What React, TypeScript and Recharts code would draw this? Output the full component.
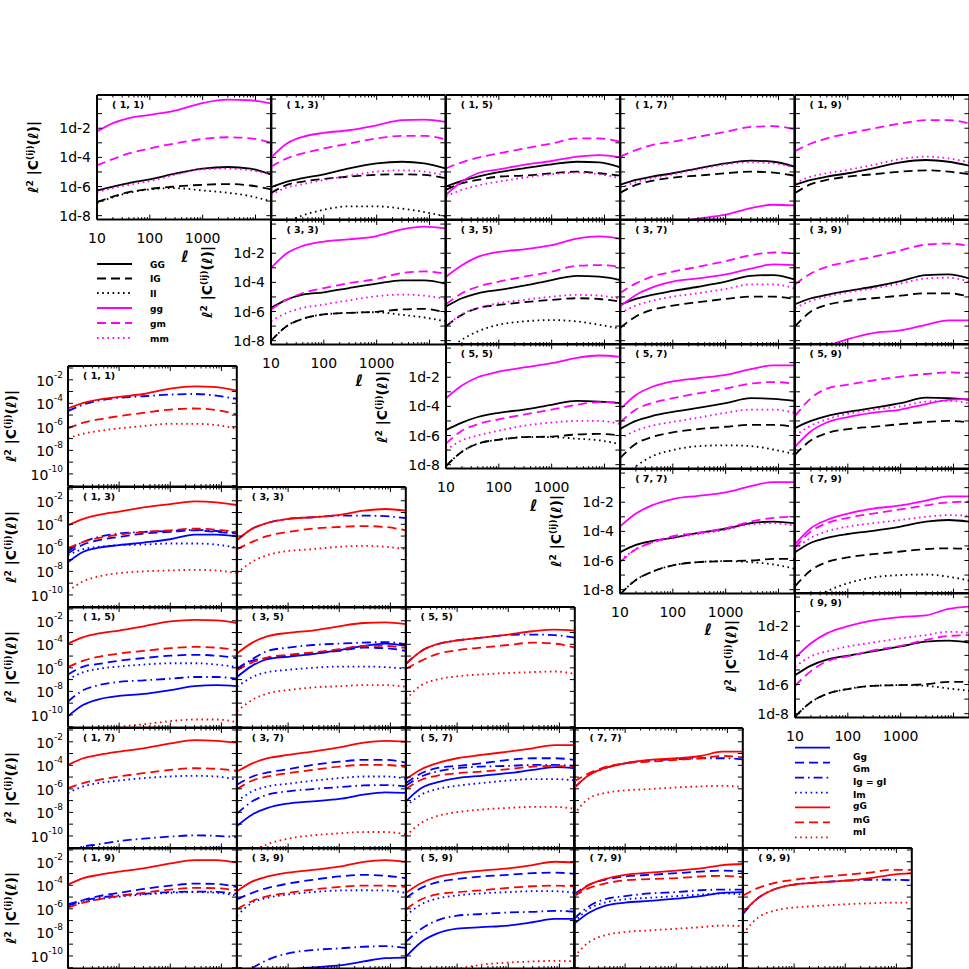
import React from "react";
import { LineChart, Line, XAxis, YAxis } from "recharts";

const FONT = "DejaVu Sans, sans-serif";

// multipole samples shared by every panel
const ELL = [10, 20, 40, 100, 300, 1000, 3000, 8000, 20000];
const X_MAJOR = [10, 100, 1000, 10000];
const X_ALL = [
  10, 20, 30, 40, 50, 60, 70, 80, 90, 100, 200, 300, 400, 500, 600, 700, 800, 900,
  1000, 2000, 3000, 4000, 5000, 6000, 7000, 8000, 9000, 10000, 20000,
];
const UP_YTICKS = [1e-8, 1e-7, 1e-6, 1e-5, 1e-4, 1e-3, 1e-2, 1e-1, 1];
const LO_YTICKS = [1e-11, 1e-10, 1e-9, 1e-8, 1e-7, 1e-6, 1e-5, 1e-4, 1e-3, 1e-2, 1e-1];

// log10 of l^2 |C(l)|, upper triangle (GG, IG, II, gg, gm, mm)
const u11 = {
  GG: [-6.27, -6.0, -5.76, -5.51, -5.12, -4.77, -4.66, -4.77, -5.19],
  IG: [-7.08, -6.69, -6.39, -6.16, -6.0, -5.88, -5.83, -5.93, -6.2],
  II: [-7.13, -6.74, -6.43, -6.2, -6.11, -6.27, -6.43, -6.66, -7.03],
  gg: [-2.23, -1.65, -1.3, -1.08, -0.8, -0.27, -0.04, -0.08, -0.3],
  gm: [-4.54, -4.12, -3.73, -3.39, -3.04, -2.74, -2.62, -2.69, -2.99],
  mm: [-6.39, -6.11, -5.88, -5.63, -5.19, -4.82, -4.77, -4.89, -5.19],
};
const u13 = {
  GG: [-6.05, -5.66, -5.43, -5.16, -4.75, -4.41, -4.3, -4.41, -4.75],
  IG: [-6.45, -5.89, -5.66, -5.48, -5.32, -5.2, -5.16, -5.2, -5.43],
  II: [-8.84, -8.39, -7.98, -7.59, -7.36, -7.36, -7.52, -7.75, -8.05],
  gg: [-4.02, -3.05, -2.59, -2.32, -2.14, -1.8, -1.45, -1.41, -1.57],
  gm: [-4.64, -4.07, -3.73, -3.39, -3.05, -2.7, -2.52, -2.52, -2.77],
  mm: [-6.57, -6.07, -5.84, -5.55, -5.27, -4.98, -4.89, -4.98, -5.25],
};
const u15 = {
  GG: [-6.0, -5.61, -5.32, -5.02, -4.75, -4.48, -4.3, -4.34, -4.68],
  IG: [-6.23, -5.77, -5.55, -5.32, -5.25, -5.09, -4.98, -5.09, -5.25],
  gg: [-6.57, -5.66, -5.09, -4.82, -4.52, -4.25, -3.95, -3.84, -4.0],
  gm: [-4.75, -4.34, -4.02, -3.73, -3.39, -3.05, -2.7, -2.7, -2.93],
  mm: [-6.68, -6.23, -5.93, -5.66, -5.39, -5.16, -5.05, -5.16, -5.43],
};
const u17 = {
  GG: [-5.89, -5.55, -5.32, -5.09, -4.75, -4.41, -4.23, -4.3, -4.64],
  IG: [-6.45, -5.89, -5.61, -5.39, -5.25, -5.09, -4.98, -5.05, -5.25],
  gg: [-9.3, -9.07, -8.84, -8.5, -8.2, -7.93, -7.48, -7.25, -7.3],
  gm: [-3.95, -3.5, -3.16, -2.93, -2.59, -2.25, -1.91, -1.86, -2.07],
  mm: [-6.11, -5.7, -5.43, -5.16, -4.82, -4.48, -4.34, -4.41, -4.7],
};
const u19 = {
  GG: [-5.89, -5.55, -5.32, -5.09, -4.75, -4.34, -4.18, -4.3, -4.57],
  IG: [-6.45, -5.84, -5.55, -5.32, -5.16, -4.98, -4.89, -4.98, -5.16],
  gm: [-3.57, -3.05, -2.7, -2.36, -2.02, -1.68, -1.45, -1.45, -1.68],
  mm: [-5.77, -5.32, -5.09, -4.86, -4.52, -4.11, -3.95, -4.07, -4.34],
};
const u33 = {
  GG: [-5.75, -5.18, -4.84, -4.68, -4.39, -4.09, -3.86, -3.86, -4.09],
  IG: [-8.02, -7.0, -6.5, -6.2, -6.09, -6.02, -5.86, -5.82, -6.09],
  II: [-8.02, -7.0, -6.5, -6.2, -6.09, -6.05, -6.23, -6.41, -6.68],
  gg: [-3.02, -2.0, -1.5, -1.2, -1.05, -0.82, -0.36, -0.18, -0.3],
  gm: [-5.86, -5.18, -4.73, -4.39, -4.05, -3.77, -3.36, -3.25, -3.41],
  mm: [-6.66, -6.09, -5.75, -5.52, -5.23, -4.95, -4.84, -4.91, -5.14],
};
const u35 = {
  GG: [-5.66, -5.09, -4.75, -4.52, -4.23, -3.84, -3.55, -3.61, -3.84],
  IG: [-7.02, -6.23, -5.77, -5.55, -5.36, -5.2, -5.09, -5.14, -5.32],
  II: [-8.73, -7.93, -7.36, -6.91, -6.68, -6.59, -6.68, -6.91, -7.18],
  gg: [-3.61, -2.82, -2.25, -1.91, -1.73, -1.45, -1.0, -0.84, -1.0],
  gm: [-5.5, -4.75, -4.3, -3.95, -3.61, -3.27, -2.86, -2.82, -2.93],
  mm: [-7.02, -6.18, -5.77, -5.43, -5.2, -4.98, -4.86, -4.91, -5.14],
};
const u37 = {
  GG: [-5.55, -5.14, -4.86, -4.59, -4.3, -3.95, -3.55, -3.5, -3.8],
  IG: [-7.14, -6.34, -5.89, -5.59, -5.36, -5.14, -4.98, -4.98, -5.14],
  gg: [-5.66, -4.86, -4.36, -3.95, -3.73, -3.45, -3.05, -2.77, -2.82],
  gm: [-4.75, -4.07, -3.61, -3.27, -2.93, -2.55, -2.14, -1.95, -2.02],
  mm: [-6.11, -5.59, -5.27, -4.98, -4.75, -4.45, -4.14, -4.14, -4.41],
};
const u39 = {
  GG: [-5.5, -5.09, -4.86, -4.59, -4.3, -3.91, -3.5, -3.45, -3.73],
  IG: [-7.02, -6.0, -5.55, -5.27, -5.09, -4.91, -4.75, -4.75, -4.98],
  gg: [-9.3, -8.84, -8.39, -7.9, -7.48, -7.3, -6.91, -6.61, -6.61],
  gm: [-4.14, -3.39, -2.93, -2.59, -2.25, -1.8, -1.41, -1.34, -1.5],
  mm: [-5.77, -5.27, -4.98, -4.68, -4.41, -4.07, -3.73, -3.68, -3.95],
};
const u55 = {
  GG: [-5.62, -5.11, -4.73, -4.44, -4.22, -3.89, -3.62, -3.67, -3.78],
  IG: [-8.1, -7.11, -6.56, -6.29, -6.11, -6.07, -5.93, -5.89, -6.0],
  II: [-8.1, -7.11, -6.56, -6.29, -6.11, -6.11, -6.22, -6.33, -6.6],
  gg: [-3.44, -2.56, -2.0, -1.62, -1.33, -1.04, -0.67, -0.51, -0.6],
  gm: [-6.56, -5.67, -5.22, -4.89, -4.56, -4.22, -3.89, -3.71, -3.71],
  mm: [-7.0, -6.33, -6.0, -5.67, -5.33, -5.11, -5.0, -5.0, -5.22],
};
const u57 = {
  GG: [-5.56, -5.0, -4.67, -4.38, -4.11, -3.78, -3.44, -3.49, -3.62],
  IG: [-7.56, -6.56, -6.11, -5.78, -5.56, -5.4, -5.27, -5.27, -5.4],
  II: [-9.0, -8.11, -7.44, -7.0, -6.73, -6.67, -6.73, -6.96, -7.27],
  gg: [-4.22, -3.22, -2.67, -2.29, -2.07, -1.84, -1.44, -1.18, -1.18],
  gm: [-5.11, -4.22, -3.78, -3.44, -3.11, -2.78, -2.44, -2.33, -2.44],
  mm: [-6.22, -5.67, -5.33, -5.07, -4.78, -4.44, -4.22, -4.22, -4.44],
};
const u59 = {
  GG: [-5.49, -5.0, -4.67, -4.38, -4.11, -3.78, -3.4, -3.44, -3.56],
  IG: [-7.33, -6.33, -5.84, -5.56, -5.4, -5.22, -5.07, -5.0, -5.11],
  gg: [-6.78, -5.71, -5.11, -4.73, -4.44, -4.22, -3.84, -3.56, -3.49],
  gm: [-4.67, -3.44, -2.78, -2.51, -2.22, -1.96, -1.78, -1.67, -1.73],
  mm: [-6.0, -5.33, -4.89, -4.51, -4.22, -4.0, -3.67, -3.62, -3.78],
};
const u77 = {
  GG: [-5.44, -4.93, -4.67, -4.44, -4.11, -3.82, -3.44, -3.33, -3.44],
  IG: [-8.33, -7.33, -6.78, -6.33, -6.11, -6.04, -6.0, -5.89, -5.89],
  II: [-8.33, -7.33, -6.78, -6.33, -6.11, -6.04, -6.11, -6.27, -6.56],
  gg: [-3.67, -2.78, -2.22, -1.78, -1.56, -1.33, -0.89, -0.62, -0.62],
  gm: [-6.11, -5.22, -4.78, -4.33, -4.11, -3.78, -3.33, -3.07, -3.0],
  mm: [-6.0, -5.22, -4.78, -4.44, -4.18, -3.89, -3.51, -3.44, -3.6],
};
const u79 = {
  GG: [-5.44, -4.78, -4.44, -4.18, -3.96, -3.67, -3.33, -3.22, -3.33],
  IG: [-7.78, -6.67, -6.11, -5.78, -5.56, -5.38, -5.22, -5.16, -5.22],
  II: [-9.56, -8.67, -8.11, -7.56, -7.16, -7.0, -6.96, -7.11, -7.38],
  gg: [-4.89, -3.78, -3.22, -2.78, -2.44, -2.22, -1.89, -1.6, -1.6],
  gm: [-5.11, -4.0, -3.44, -3.07, -2.78, -2.49, -2.22, -2.0, -1.96],
  mm: [-5.22, -4.44, -4.0, -3.67, -3.44, -3.22, -3.0, -2.89, -2.93],
};
const u99 = {
  GG: [-5.37, -4.7, -4.29, -4.02, -3.73, -3.39, -3.06, -2.99, -3.12],
  IG: [-8.22, -7.21, -6.65, -6.31, -6.09, -6.04, -5.98, -5.82, -5.82],
  II: [-8.22, -7.21, -6.65, -6.31, -6.09, -6.04, -6.09, -6.27, -6.43],
  gg: [-4.18, -3.17, -2.49, -2.0, -1.6, -1.37, -1.26, -0.81, -0.65],
  gm: [-6.09, -5.08, -4.4, -4.07, -3.66, -3.35, -2.94, -2.67, -2.61],
  mm: [-4.79, -4.07, -3.73, -3.39, -3.12, -2.83, -2.61, -2.38, -2.45],
};

// log10 of l^2 |C(l)|, lower triangle (Gg, Gm, Ig, Im, gG, mG, mI)
const d11 = {
  Ig: [-4.67, -4.11, -3.77, -3.54, -3.4, -3.26, -3.21, -3.35, -3.63],
  gG: [-4.44, -3.97, -3.69, -3.46, -3.21, -2.76, -2.56, -2.62, -2.93],
  mG: [-6.13, -5.65, -5.37, -5.09, -4.81, -4.53, -4.44, -4.58, -4.95],
  mI: [-6.97, -6.58, -6.35, -6.13, -5.93, -5.74, -5.74, -5.85, -6.16],
};
const d13 = {
  Gg: [-7.22, -6.33, -5.99, -5.77, -5.55, -5.27, -4.88, -4.88, -5.02],
  Gm: [-6.47, -5.72, -5.35, -5.07, -4.79, -4.65, -4.51, -4.65, -4.79],
  Ig: [-6.27, -5.49, -5.07, -4.79, -4.65, -4.57, -4.46, -4.57, -4.71],
  Im: [-6.61, -6.11, -5.91, -5.77, -5.72, -5.63, -5.63, -5.72, -5.99],
  gG: [-4.09, -3.54, -3.2, -2.92, -2.56, -2.28, -2.06, -2.14, -2.36],
  mG: [-6.05, -5.49, -5.16, -4.88, -4.65, -4.51, -4.37, -4.46, -4.65],
  mI: [-9.68, -8.84, -8.42, -8.15, -8.0, -7.92, -7.87, -7.92, -8.15],
};
const d33 = {
  Ig: [-5.35, -4.37, -3.87, -3.54, -3.4, -3.26, -3.26, -3.31, -3.48],
  gG: [-5.35, -4.37, -3.87, -3.54, -3.4, -3.2, -2.84, -2.7, -2.84],
  mG: [-6.11, -5.49, -4.99, -4.65, -4.37, -4.23, -4.15, -4.23, -4.51],
  mI: [-8.15, -7.17, -6.61, -6.27, -6.11, -5.91, -5.83, -5.91, -6.11],
};
const d15 = {
  Gg: [-10.11, -9.14, -8.67, -8.39, -8.22, -7.89, -7.56, -7.47, -7.56],
  Gm: [-6.56, -5.89, -5.67, -5.39, -5.17, -4.97, -4.89, -4.97, -5.17],
  Ig: [-8.86, -7.89, -7.47, -7.19, -7.06, -6.92, -6.78, -6.78, -6.92],
  Im: [-7.0, -6.36, -6.08, -5.89, -5.72, -5.61, -5.61, -5.72, -5.94],
  gG: [-3.94, -3.39, -3.08, -2.83, -2.47, -2.06, -1.92, -1.97, -2.19],
  mG: [-5.94, -5.39, -5.06, -4.78, -4.56, -4.33, -4.22, -4.28, -4.5],
  mI: [-12.0, -11.6, -11.3, -11.0, -10.8, -10.53, -10.39, -10.39, -10.61],
};
const d35 = {
  Gg: [-6.78, -5.81, -5.25, -5.06, -4.83, -4.5, -4.14, -3.94, -4.14],
  Gm: [-6.08, -5.39, -5.17, -4.97, -4.78, -4.56, -4.28, -4.33, -4.56],
  Ig: [-6.08, -5.25, -4.56, -4.28, -4.06, -3.94, -3.86, -3.81, -4.0],
  Im: [-7.61, -6.78, -6.36, -6.17, -6.0, -5.89, -5.89, -5.94, -6.08],
  gG: [-4.78, -3.86, -3.31, -3.03, -2.83, -2.47, -2.19, -2.14, -2.28],
  mG: [-6.22, -5.53, -5.11, -4.89, -4.69, -4.42, -4.14, -4.14, -4.33],
  mI: [-9.69, -8.72, -8.17, -7.89, -7.67, -7.56, -7.47, -7.47, -7.61],
};
const d55 = {
  Ig: [-5.67, -4.56, -4.0, -3.67, -3.44, -3.2, -3.17, -3.22, -3.44],
  gG: [-5.67, -4.56, -4.0, -3.67, -3.44, -3.17, -2.89, -2.75, -2.83],
  mG: [-6.08, -5.39, -4.83, -4.5, -4.28, -4.06, -3.86, -3.94, -4.28],
  mI: [-8.67, -7.47, -7.0, -6.72, -6.56, -6.44, -6.36, -6.31, -6.5],
};
const d17 = {
  Gg: [-12.5, -11.9, -11.6, -11.4, -11.3, -11.19, -11.05, -10.99, -11.05],
  Ig: [-11.27, -10.9, -10.71, -10.43, -10.23, -10.06, -9.95, -10.0, -10.09],
  Im: [-6.35, -5.79, -5.51, -5.29, -5.09, -4.95, -4.89, -4.95, -5.23],
  gG: [-3.97, -3.4, -3.12, -2.84, -2.56, -2.14, -1.86, -1.92, -2.08],
  mG: [-5.93, -5.51, -5.23, -4.95, -4.67, -4.39, -4.25, -4.3, -4.47],
};
const d37 = {
  Gg: [-9.16, -8.18, -7.62, -7.25, -7.06, -6.86, -6.49, -6.3, -6.35],
  Gm: [-5.65, -4.95, -4.61, -4.33, -3.97, -3.69, -3.54, -3.54, -3.77],
  Ig: [-8.1, -7.06, -6.49, -6.21, -6.02, -5.85, -5.71, -5.68, -5.79],
  Im: [-7.06, -6.21, -5.79, -5.57, -5.31, -5.09, -4.95, -4.95, -5.15],
  gG: [-4.53, -3.83, -3.4, -3.12, -2.84, -2.48, -2.08, -1.92, -2.0],
  mG: [-6.02, -5.29, -4.95, -4.67, -4.39, -4.11, -3.97, -3.97, -4.16],
  mI: [-12.0, -11.3, -10.7, -10.23, -9.95, -9.78, -9.67, -9.67, -9.87],
};
const d57 = {
  Gg: [-7.06, -5.93, -5.46, -5.09, -4.89, -4.67, -4.39, -4.16, -4.25],
  Gm: [-5.51, -4.67, -4.25, -4.05, -3.83, -3.54, -3.4, -3.4, -3.54],
  Ig: [-5.74, -4.95, -4.53, -4.25, -4.11, -4.05, -3.97, -3.97, -4.05],
  Im: [-7.48, -6.49, -6.02, -5.74, -5.51, -5.29, -5.17, -5.17, -5.29],
  gG: [-5.17, -4.33, -3.83, -3.4, -3.12, -2.84, -2.56, -2.28, -2.28],
  mG: [-6.02, -5.23, -4.89, -4.67, -4.53, -4.33, -4.11, -4.05, -4.16],
  mI: [-10.0, -8.88, -8.32, -7.98, -7.76, -7.62, -7.53, -7.53, -7.7],
};
const d77 = {
  Ig: [-5.93, -4.81, -4.25, -3.83, -3.6, -3.49, -3.4, -3.4, -3.49],
  gG: [-5.93, -4.81, -4.25, -3.83, -3.54, -3.4, -3.21, -2.84, -2.84],
  mG: [-5.37, -4.67, -4.16, -3.83, -3.69, -3.54, -3.4, -3.21, -3.32],
  mI: [-8.18, -6.78, -6.35, -6.13, -6.02, -5.88, -5.79, -5.74, -5.85],
};
const d19 = {
  Gm: [-5.75, -5.25, -4.92, -4.64, -4.31, -4.03, -3.86, -3.89, -4.14],
  Ig: [-5.61, -5.28, -5.06, -4.86, -4.72, -4.58, -4.53, -4.56, -4.72],
  Im: [-5.81, -5.42, -5.19, -4.97, -4.78, -4.64, -4.58, -4.64, -4.86],
  gG: [-3.94, -3.39, -3.11, -2.83, -2.56, -2.14, -1.86, -1.86, -2.08],
  mG: [-5.89, -5.47, -5.19, -4.92, -4.64, -4.36, -4.22, -4.25, -4.42],
};
const d39 = {
  Gg: [-12.5, -12.0, -11.6, -11.2, -10.97, -10.81, -10.47, -10.19, -10.14],
  Gm: [-5.19, -4.64, -4.22, -3.86, -3.53, -3.25, -3.11, -3.19, -3.39],
  Ig: [-12.0, -11.03, -10.33, -9.78, -9.5, -9.36, -9.22, -9.17, -9.31],
  Im: [-6.58, -5.47, -5.06, -4.78, -4.58, -4.44, -4.42, -4.44, -4.64],
  gG: [-4.5, -3.67, -3.25, -2.92, -2.69, -2.42, -2.0, -1.86, -2.0],
  mG: [-6.03, -5.33, -4.92, -4.64, -4.36, -4.14, -4.03, -4.03, -4.14],
};
const d59 = {
  Gg: [-10.06, -8.81, -8.11, -7.69, -7.56, -7.42, -7.14, -6.86, -6.86],
  Gm: [-5.06, -4.22, -3.75, -3.47, -3.25, -3.11, -2.97, -2.92, -3.03],
  Ig: [-8.81, -7.69, -7.0, -6.58, -6.44, -6.31, -6.25, -6.17, -6.25],
  Im: [-6.58, -5.61, -5.14, -4.86, -4.69, -4.58, -4.5, -4.5, -4.64],
  gG: [-4.64, -3.81, -3.31, -2.97, -2.75, -2.56, -2.28, -2.0, -2.08],
  mG: [-6.03, -5.19, -4.78, -4.58, -4.42, -4.22, -4.08, -4.03, -4.08],
  mI: [-12.5, -12.0, -11.5, -11.1, -10.75, -10.56, -10.47, -10.42, -10.47],
};
const d79 = {
  Gg: [-7.28, -6.31, -5.75, -5.47, -5.33, -5.14, -4.92, -4.64, -4.58],
  Gm: [-4.78, -3.94, -3.53, -3.25, -3.11, -2.97, -2.83, -2.75, -2.83],
  Ig: [-6.86, -5.75, -5.19, -4.92, -4.69, -4.58, -4.42, -4.36, -4.36],
  Im: [-7.14, -5.97, -5.47, -5.19, -5.06, -4.92, -4.78, -4.69, -4.78],
  gG: [-4.92, -3.94, -3.47, -3.11, -2.92, -2.75, -2.56, -2.28, -2.19],
  mG: [-4.92, -4.22, -3.86, -3.58, -3.47, -3.39, -3.25, -3.19, -3.31],
  mI: [-10.06, -8.81, -8.25, -7.97, -7.83, -7.69, -7.56, -7.42, -7.47],
};
const d99 = {
  Ig: [-6.44, -5.06, -4.36, -3.94, -3.75, -3.61, -3.53, -3.53, -3.58],
  gG: [-6.31, -5.06, -4.36, -3.94, -3.75, -3.61, -3.39, -3.11, -2.97],
  mG: [-4.86, -4.22, -3.81, -3.53, -3.31, -3.11, -2.92, -2.69, -2.69],
  mI: [-8.11, -6.72, -6.17, -5.89, -5.75, -5.61, -5.53, -5.47, -5.47],
};

const upperPanels = [
  { i: 1, j: 1, v: u11 }, { i: 1, j: 3, v: u13 }, { i: 1, j: 5, v: u15 },
  { i: 1, j: 7, v: u17 }, { i: 1, j: 9, v: u19 }, { i: 3, j: 3, v: u33 },
  { i: 3, j: 5, v: u35 }, { i: 3, j: 7, v: u37 }, { i: 3, j: 9, v: u39 },
  { i: 5, j: 5, v: u55 }, { i: 5, j: 7, v: u57 }, { i: 5, j: 9, v: u59 },
  { i: 7, j: 7, v: u77 }, { i: 7, j: 9, v: u79 }, { i: 9, j: 9, v: u99 },
];
const lowerPanels = [
  { i: 1, j: 1, v: d11 }, { i: 1, j: 3, v: d13 }, { i: 3, j: 3, v: d33 },
  { i: 1, j: 5, v: d15 }, { i: 3, j: 5, v: d35 }, { i: 5, j: 5, v: d55 },
  { i: 1, j: 7, v: d17 }, { i: 3, j: 7, v: d37 }, { i: 5, j: 7, v: d57 },
  { i: 7, j: 7, v: d77 }, { i: 1, j: 9, v: d19 }, { i: 3, j: 9, v: d39 },
  { i: 5, j: 9, v: d59 }, { i: 7, j: 9, v: d79 }, { i: 9, j: 9, v: d99 },
];

const MAG = "#ff00ff";
const RED = "#ff0000";
const BLUE = "#0000ff";
const DASH = "9 5";
const DOT = "1.6 3.6";
const DASHDOT = "9 4 1.6 4";
const LW = 1.8;

type Style = { key: string; label: string; color: string; dash?: string };

const upperStyles: Style[] = [
  { key: "GG", label: "GG", color: "#000" },
  { key: "IG", label: "IG", color: "#000", dash: DASH },
  { key: "II", label: "II", color: "#000", dash: DOT },
  { key: "gg", label: "gg", color: MAG },
  { key: "gm", label: "gm", color: MAG, dash: DASH },
  { key: "mm", label: "mm", color: MAG, dash: DOT },
];
const lowerStyles: Style[] = [
  { key: "Gg", label: "Gg", color: BLUE },
  { key: "Gm", label: "Gm", color: BLUE, dash: DASH },
  { key: "Ig", label: "Ig = gI", color: BLUE, dash: DASHDOT },
  { key: "Im", label: "Im", color: BLUE, dash: DOT },
  { key: "gG", label: "gG", color: RED },
  { key: "mG", label: "mG", color: RED, dash: DASH },
  { key: "mI", label: "mI", color: RED, dash: DOT },
];

// grid geometry
const UP = { left: 97, top: 95, w: 174.4, h: 124.6, dom: [10 ** -8.27, 10 ** 0.28] };
const LO = { left: 68, top: 366, w: 168.8, h: 120.5, dom: [10 ** -11.07, 10 ** -0.83] };

const ML = 72;
const MT = 6;
const MR = 6;
const MB = 50;

// tick renderers draw the inward tick mark themselves (+ optional label)
const xTick = (side: "b" | "t", labels: boolean) => (props: any) => {
  const { x, y, payload } = props;
  const major = X_MAJOR.includes(payload.value);
  const len = major ? 5 : 2.5;
  const dir = side === "b" ? -1 : 1;
  return (
    <g>
      <line x1={x} x2={x} y1={y} y2={y + dir * len} stroke="#000" strokeWidth={1} />
      {labels && major && payload.value <= 1000 && (
        <text x={x} y={y + 23} textAnchor="middle" fontSize={14} fontFamily={FONT} fill="#000">
          {payload.value}
        </text>
      )}
    </g>
  );
};

const yTick = (side: "l" | "r", kind: "none" | "up" | "lo") => (props: any) => {
  const { x, y, payload } = props;
  const e = Math.round(Math.log10(payload.value));
  const dir = side === "l" ? 1 : -1;
  const show = kind !== "none" && e <= -2 && e % 2 === 0;
  return (
    <g>
      <line x1={x} x2={x + dir * 5} y1={y} y2={y} stroke="#000" strokeWidth={1} />
      {show && kind === "up" && (
        <text x={x - 6} y={y + 5} textAnchor="end" fontSize={14} fontFamily={FONT} fill="#000">
          {`1d${e}`}
        </text>
      )}
      {show && kind === "lo" && (
        <text x={x - 5} y={y + 6} textAnchor="end" fontFamily={FONT} fill="#000">
          <tspan fontSize={14}>10</tspan>
          <tspan fontSize={9} dy={-8}>{e}</tspan>
        </text>
      )}
    </g>
  );
};

interface PanelProps {
  left: number;
  top: number;
  w: number;
  h: number;
  values: Record<string, number[]>;
  styles: Style[];
  yDomain: number[];
  yTicks: number[];
  yKind: "none" | "up" | "lo";
  xLabels: boolean;
}

const Panel = ({ left, top, w, h, values, styles, yDomain, yTicks, yKind, xLabels }: PanelProps) => {
  const rows = ELL.map((l, k) => {
    const r: Record<string, number> = { l };
    styles.forEach((s) => {
      if (values[s.key]) r[s.key] = 10 ** values[s.key][k];
    });
    return r;
  });
  const xCommon = {
    dataKey: "l",
    type: "number" as const,
    scale: "log" as const,
    domain: [10, 20000],
    allowDataOverflow: true,
    height: 1,
    interval: 0 as const,
    ticks: X_ALL,
    tickSize: 0,
    tickMargin: 0,
    tickLine: false,
  };
  const yCommon = {
    type: "number" as const,
    scale: "log" as const,
    domain: yDomain,
    allowDataOverflow: true,
    width: 1,
    interval: 0 as const,
    ticks: yTicks,
    tickSize: 0,
    tickMargin: 0,
    tickLine: false,
  };
  const frame = { stroke: "#000", strokeWidth: 2 };
  return (
    <div style={{ position: "absolute", left: left - ML, top: top - MT }}>
      <LineChart
        width={w + ML + MR}
        height={h + MT + MB}
        data={rows}
        margin={{ top: MT - 1, right: MR - 1, bottom: MB - 1, left: ML - 1 }}
      >
        <XAxis {...xCommon} xAxisId="b" tick={xTick("b", xLabels)} axisLine={frame} />
        <XAxis {...xCommon} xAxisId="t" orientation="top" tick={xTick("t", false)} axisLine={frame} />
        <YAxis {...yCommon} yAxisId="l" tick={yTick("l", yKind)} axisLine={frame} />
        <YAxis {...yCommon} yAxisId="r" orientation="right" tick={yTick("r", "none")} axisLine={frame} />
        {styles
          .filter((s) => values[s.key])
          .map((s) => (
            <Line
              key={s.key}
              xAxisId="b"
              yAxisId="l"
              type="monotone"
              dataKey={s.key}
              stroke={s.color}
              strokeWidth={LW}
              strokeDasharray={s.dash}
              dot={false}
              isAnimationActive={false}
            />
          ))}
      </LineChart>
    </div>
  );
};

const YTitle = ({ cx, cy }: { cx: number; cy: number }) => (
  <div
    style={{
      position: "absolute",
      left: cx,
      top: cy,
      transform: "translate(-50%, -50%) rotate(-90deg)",
      whiteSpace: "nowrap",
      fontFamily: FONT,
      fontWeight: "bold",
      fontSize: 14,
      lineHeight: 1,
    }}
  >
    ℓ<sup style={{ fontSize: 9 }}>2</sup> |C<sup style={{ fontSize: 9 }}>(ij)</sup>(ℓ)|
  </div>
);

const Title = ({ x, y, text }: { x: number; y: number; text: string }) => (
  <div
    style={{
      position: "absolute",
      left: x,
      top: y,
      fontFamily: FONT,
      fontWeight: "bold",
      fontSize: 9.5,
      lineHeight: 1,
      whiteSpace: "pre",
    }}
  >
    {text}
  </div>
);

const Ell = ({ x, y }: { x: number; y: number }) => (
  <div
    style={{
      position: "absolute",
      left: x,
      top: y,
      transform: "translate(-50%, -50%)",
      fontFamily: FONT,
      fontStyle: "italic",
      fontWeight: "bold",
      fontSize: 16,
      lineHeight: 1,
    }}
  >
    ℓ
  </div>
);

const upperLegendY = [264, 278.5, 293, 308, 323, 338];
const lowerLegendLineY = [747.7, 762.7, 777.7, 792.7, 807.3, 822.3, 837.3];
const lowerLegendTextY = [756.7, 768.3, 781.7, 794, 805, 819, 831.7];

export default function App() {
  return (
    <div
      style={{
        position: "absolute",
        left: 0,
        top: 0,
        width: 969,
        height: 969,
        background: "#fff",
        overflow: "hidden",
      }}
    >
      {upperPanels.map((p) => {
        const row = (p.i - 1) / 2;
        const col = (p.j - 1) / 2;
        const diag = p.i === p.j;
        return (
          <Panel
            key={`u${p.i}${p.j}`}
            left={UP.left + col * UP.w}
            top={UP.top + row * UP.h}
            w={UP.w}
            h={UP.h}
            values={p.v}
            styles={upperStyles}
            yDomain={UP.dom}
            yTicks={UP_YTICKS}
            yKind={diag ? "up" : "none"}
            xLabels={diag}
          />
        );
      })}
      {lowerPanels.map((p) => {
        const row = (p.j - 1) / 2;
        const col = (p.i - 1) / 2;
        return (
          <Panel
            key={`d${p.i}${p.j}`}
            left={LO.left + col * LO.w}
            top={LO.top + row * LO.h}
            w={LO.w}
            h={LO.h}
            values={p.v}
            styles={lowerStyles}
            yDomain={LO.dom}
            yTicks={LO_YTICKS}
            yKind={col === 0 ? "lo" : "none"}
            xLabels={false}
          />
        );
      })}

      {upperPanels.map((p) => {
        const row = (p.i - 1) / 2;
        const col = (p.j - 1) / 2;
        const x = UP.left + col * UP.w;
        const y = UP.top + row * UP.h;
        return (
          <React.Fragment key={`ut${p.i}${p.j}`}>
            <Title x={x + 15} y={y + 5} text={`( ${p.i}, ${p.j})`} />
            {p.i === p.j && <YTitle cx={x - 64} cy={y + UP.h / 2} />}
            {p.i === p.j && p.i < 9 && <Ell x={x + 88} y={y + UP.h + 37} />}
          </React.Fragment>
        );
      })}
      {lowerPanels.map((p) => {
        const row = (p.j - 1) / 2;
        const col = (p.i - 1) / 2;
        const x = LO.left + col * LO.w;
        const y = LO.top + row * LO.h;
        return (
          <React.Fragment key={`dt${p.i}${p.j}`}>
            <Title x={x + 15} y={y + 5} text={`( ${p.i}, ${p.j})`} />
            {col === 0 && <YTitle cx={x - 57} cy={y + LO.h / 2} />}
          </React.Fragment>
        );
      })}

      <svg width={969} height={969} style={{ position: "absolute", left: 0, top: 0, pointerEvents: "none" }}>
        {upperStyles.map((s, k) => (
          <g key={s.key}>
            <line x1={97} x2={132} y1={upperLegendY[k]} y2={upperLegendY[k]} stroke={s.color} strokeWidth={LW} strokeDasharray={s.dash} />
            <text x={150} y={upperLegendY[k] + 3.5} fontSize={9} fontWeight="bold" fontFamily={FONT}>
              {s.label}
            </text>
          </g>
        ))}
        {lowerStyles.map((s, k) => (
          <g key={s.key}>
            <line x1={795} x2={830} y1={lowerLegendLineY[k]} y2={lowerLegendLineY[k]} stroke={s.color} strokeWidth={LW} strokeDasharray={s.dash} />
            <text x={853} y={lowerLegendTextY[k] + 3.5} fontSize={9} fontWeight="bold" fontFamily={FONT}>
              {s.label}
            </text>
          </g>
        ))}
      </svg>
    </div>
  );
}
